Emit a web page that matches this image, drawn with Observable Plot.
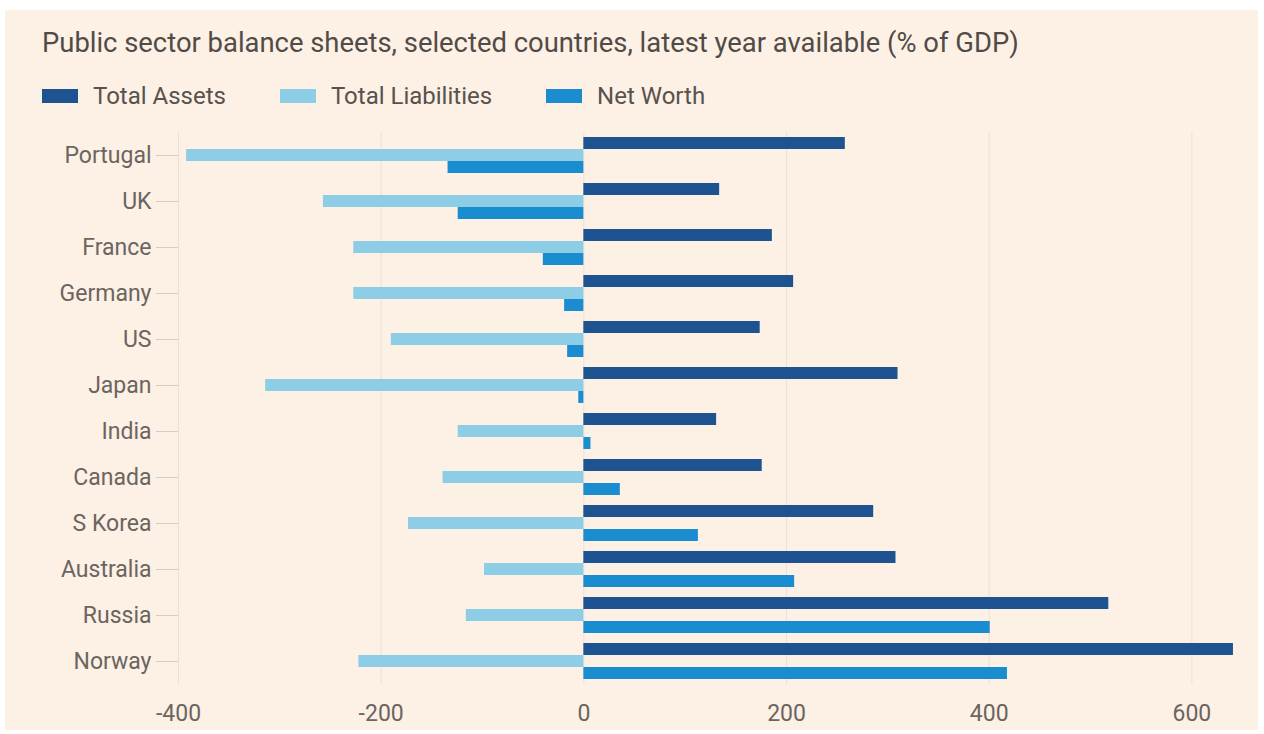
<!DOCTYPE html>
<html>
<head>
<meta charset="utf-8">
<script src="https://cdn.jsdelivr.net/npm/d3@7"></script>
<script src="https://cdn.jsdelivr.net/npm/@observablehq/plot@0.6"></script>
<style>
  html, body { margin: 0; padding: 0; background: #ffffff; }
  #frame { position: absolute; left: 5px; top: 10px; width: 1253px; height: 720px; background: #fdf0e5; }
  #title { position: absolute; left: 42px; top: 26px; font-family: Roboto, sans-serif; font-size: 27.4px; line-height: 34px; color: #504b47; white-space: nowrap; }
  #legend { position: absolute; left: 42px; top: 81px; font-family: Roboto, sans-serif; font-size: 24px; line-height: 30px; color: #58524e; display: flex; }
  .item { display: flex; align-items: center; margin-right: 54px; }
  .sw { width: 36px; height: 14px; margin-right: 15px; }
  #chart { position: absolute; left: 0; top: 118px; }
</style>
</head>
<body>
<div id="frame"></div>
<div id="title">Public sector balance sheets, selected countries, latest year available (% of GDP)</div>
<div id="legend"></div>
<div id="chart"></div>
<script>
const countries = ["Portugal","UK","France","Germany","US","Japan","India","Canada","S Korea","Australia","Russia","Norway"];
const assets      = [258, 134, 186, 207, 174, 310, 131, 176, 286, 308, 518, 641];
const liabilities = [-392, -257, -227, -227, -190, -314, -124, -139, -173, -98, -116, -222];
const netWorth    = [-134, -124, -40, -19, -16, -5, 7, 36, 113, 208, 401, 418];
const seriesNames = ["Total Assets", "Total Liabilities", "Net Worth"];
const seriesColors = ["#1c5390", "#8ecde6", "#1a8cd0"];
const xTicks = [-400, -200, 0, 200, 400, 600];

const seriesValues = [assets, liabilities, netWorth];
const rows = [];
countries.forEach((c, i) => {
  seriesNames.forEach((s, j) => rows.push({country: c, series: s, value: seriesValues[j][i]}));
});

const legend = document.getElementById("legend");
seriesNames.forEach((s, j) => {
  const it = document.createElement("div");
  it.className = "item";
  it.innerHTML = `<span class="sw" style="background:${seriesColors[j]}"></span><span>${s}</span>`;
  legend.appendChild(it);
});

const font = "Roboto, sans-serif";
const chart = Plot.plot({
  width: 1264,
  height: 617,
  marginLeft: 178,
  marginRight: 27,
  marginTop: 10,
  marginBottom: 47,
  style: {background: "transparent", fontFamily: font, fontSize: "23px", color: "#6b6560"},
  x: {domain: [-400, 645], label: null},
  y: {domain: seriesNames, axis: null, paddingInner: 0, paddingOuter: 0.38},
  fy: {domain: countries, padding: 0, label: null},
  color: {domain: seriesNames, range: seriesColors},
  marks: [
    Plot.gridX(xTicks, {stroke: "#ece0d5", strokeOpacity: 1}),
    Plot.barX(rows, {x: "value", y: "series", fy: "country", fill: "series"}),
    Plot.axisX({ticks: xTicks, tickSize: 0, tickPadding: 20, tickFormat: d => String(d), label: null, fill: "#6b6560"}),
    Plot.axisFy({anchor: "left", tickSize: 22, tickPadding: 5, stroke: "#d8cdc3", label: null, fill: "#6b6560"})
  ]
});
document.getElementById("chart").appendChild(chart);
</script>
</body>
</html>
